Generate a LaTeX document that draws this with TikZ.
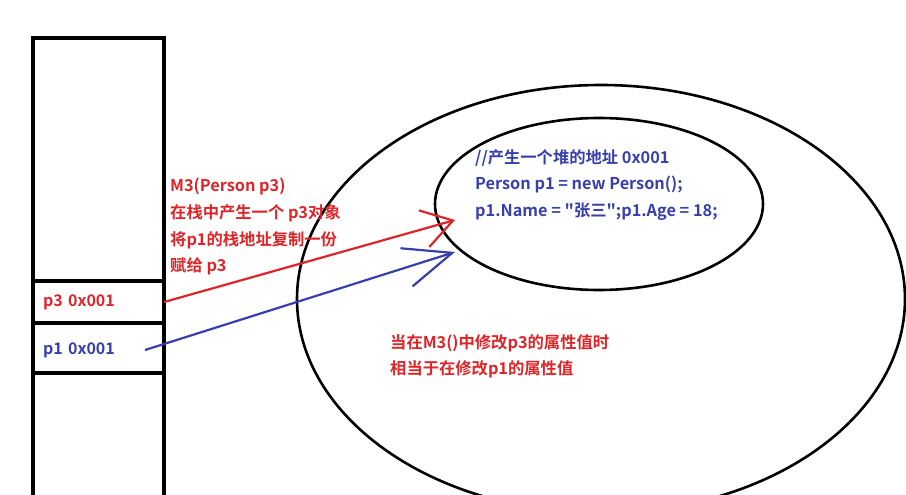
\documentclass[tikz,border=0pt]{standalone}
\usepackage{fontspec}
\setmainfont{Noto Sans CJK SC}[Ligatures=TeXOff,BoldFont={* Bold}]
\usepackage{tikz}
\usetikzlibrary{shapes,arrows,arrows.meta,positioning}
\definecolor{memred}{RGB}{222,36,40}
\definecolor{memblue}{RGB}{56,62,172}

\begin{document}
\begin{tikzpicture}[x=1pt,y=-1pt]
  \tikzstyle{frame} = [draw,line width=3.2pt]
  \tikzstyle{area} = [draw,ellipse,line width=2.6pt,inner sep=0pt]
  \tikzstyle{cell} = [rectangle,minimum width=131pt,text width=111pt,inner sep=0pt,align=left,
                      font=\bfseries\fontsize{16}{17}\selectfont]
  \tikzstyle{note} = [anchor=north west,inner sep=0pt,align=left,
                      font=\bfseries\fontsize{16.3}{26.7}\selectfont]
  \tikzstyle{ref} = [line width=2.2pt]
  \useasboundingbox (0,0) rectangle (906,495);
  % stack
  \draw [frame] (33,500) -- (33,38) -- (164,38) -- (164,500);
  \draw [frame] (33,281) -- (164,281);
  \draw [frame] (33,323) -- (164,323);
  \draw [frame] (33,373) -- (164,373);
  \node (p3cell) [cell, memred, minimum height=42pt] at (98.5,302) {p3 0x001};
  \node (p1cell) [cell, memblue, minimum height=50pt] at (98.5,350) {p1 0x001};
  % heap
  \node (heap) [area, minimum width=608pt, minimum height=428pt] at (601,299) {};
  \node (obj) [area, minimum width=328pt, minimum height=172pt] at (599,204) {};
  \node (code) [note, memblue] at (475,149)
    {//产生一个堆的地址 0x001\\Person p1 = new Person();\\p1.Name = "张三";p1.Age = 18;};
  \node (call) [note, memred] at (170,178)
    {M3(Person p3)\\在栈中产生一个 p3对象\\将p1的栈地址复制一份\\赋给 p3};
  \node (same) [note, memred] at (390,334)
    {当在M3()中修改p3的属性值时\\相当于在修改p1的属性值};
  % references
  \coordinate (p3ref) at (455,220);
  \coordinate (p1start) at (145,350);
  \coordinate (p1ref) at (455,252);
  \draw [ref, memred, -{Straight Barb[length=30pt,width=38pt]}] (p3cell.east) -- (p3ref);
  \draw [ref, memblue, -{Straight Barb[length=48pt,width=40pt]}] (p1start) -- (p1ref);
\end{tikzpicture}
\end{document}
